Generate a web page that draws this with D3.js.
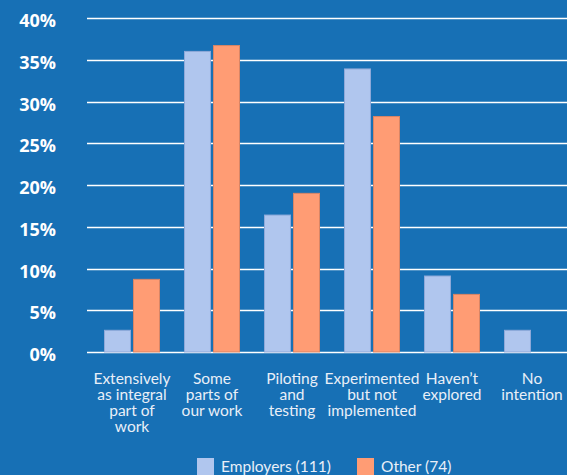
<!DOCTYPE html>
<html>
<head>
<meta charset="utf-8">
<script src="https://cdn.jsdelivr.net/npm/d3@7"></script>
<style>
  body { margin: 0; background: #1770b5; }
  svg { display: block; }
</style>
</head>
<body>
<div id="chart"><svg width="567" height="475"></svg></div>
<script>
// data
const categories = [
  ['Extensively', 'as integral', 'part of', 'work'],
  ['Some', 'parts of', 'our work'],
  ['Piloting', 'and', 'testing'],
  ['Experimented', 'but not', 'implemented'],
  ['Haven\u2019t', 'explored'],
  ['No', 'intention']
];
const seriesNames = ['Employers (111)', 'Other (74)'];
const employers = [2.6, 36.0, 16.4, 33.9, 9.1, 2.6];
const other = [8.7, 36.7, 19.0, 28.2, 6.9, 0];
const yTicks = [0, 5, 10, 15, 20, 25, 30, 35, 40];

const SVG_WIDTH = 567;
const svg = d3.select('#chart svg');
const catIdx = categories.map((d, i) => i);

// colour scale
const scaleColor = d3.scaleOrdinal()
  .domain(seriesNames)
  .range(['#b0c6ee', '#ff9c74']);
const strokeColor = d3.scaleOrdinal()
  .domain(seriesNames)
  .range(['#8fa9d9', '#d98565']);

// Y scale
const scaleY = d3.scaleLinear()
  .domain([0, 40])
  .range([352, 18]);

// X scales
const scaleX = d3.scaleBand()
  .domain(catIdx)
  .range([92, 572])
  .paddingInner(0.3)
  .paddingOuter(0.15);

const scaleSub = d3.scaleBand()
  .domain(seriesNames)
  .range([0, scaleX.bandwidth()])
  .paddingInner(0.07);

// gridlines
svg.append('g')
  .selectAll('line')
  .data(yTicks)
  .join('line')
  .attr('x1', 87)
  .attr('x2', SVG_WIDTH)
  .attr('y1', d => Math.round(scaleY(d)) + 0.5)
  .attr('y2', d => Math.round(scaleY(d)) + 0.5)
  .style('stroke', '#ffffff')
  .style('stroke-width', 1.5);

// y labels
svg.append('g')
  .selectAll('text')
  .data(yTicks)
  .join('text')
  .text(d => d + '%')
  .attr('x', 56)
  .attr('y', d => scaleY(d) + 9)
  .style('fill', '#ffffff')
  .style('font-family', 'Open Sans, sans-serif')
  .style('font-weight', '700')
  .style('font-size', '18px')
  .style('text-anchor', 'end');

// bars
const groups = svg.append('g')
  .selectAll('g')
  .data(catIdx)
  .join('g')
  .attr('transform', i => `translate(${scaleX(i)},0)`);

groups.selectAll('rect')
  .data(i => [
    { s: seriesNames[0], v: employers[i] },
    { s: seriesNames[1], v: other[i] }
  ].filter(d => d.v > 0))
  .join('rect')
  .attr('x', d => scaleSub(d.s) + 0.5)
  .attr('y', d => scaleY(d.v))
  .attr('width', scaleSub.bandwidth() - 1)
  .attr('height', d => scaleY(0) - scaleY(d.v))
  .style('fill', d => scaleColor(d.s))
  .style('stroke', d => strokeColor(d.s))
  .style('stroke-width', 1);

// category labels
const catG = svg.append('g')
  .style('fill', '#e9eff8')
  .style('font-family', 'Lato, sans-serif')
  .style('font-size', '15.5px')
  .style('text-anchor', 'middle');

catG.selectAll('text')
  .data(catIdx)
  .join('text')
  .attr('x', i => scaleX(i) + scaleX.bandwidth() / 2)
  .attr('y', 384)
  .selectAll('tspan')
  .data(i => categories[i])
  .join('tspan')
  .attr('x', function () { return this.parentNode.getAttribute('x'); })
  .attr('dy', (d, j) => j === 0 ? 0 : 16)
  .text(d => d);

// legend
const legend = svg.append('g')
  .style('font-family', 'Lato, sans-serif')
  .style('font-size', '15.5px');

const legendX = d3.scaleOrdinal()
  .domain(seriesNames)
  .range([197, 357]);

legend.selectAll('rect')
  .data(seriesNames)
  .join('rect')
  .attr('x', d => legendX(d))
  .attr('y', 458)
  .attr('width', 17)
  .attr('height', 17)
  .style('fill', d => scaleColor(d));

legend.selectAll('text')
  .data(seriesNames)
  .join('text')
  .text(d => d)
  .attr('x', d => legendX(d) + 24)
  .attr('y', 472)
  .style('fill', '#e9eff8');
</script>
</body>
</html>
